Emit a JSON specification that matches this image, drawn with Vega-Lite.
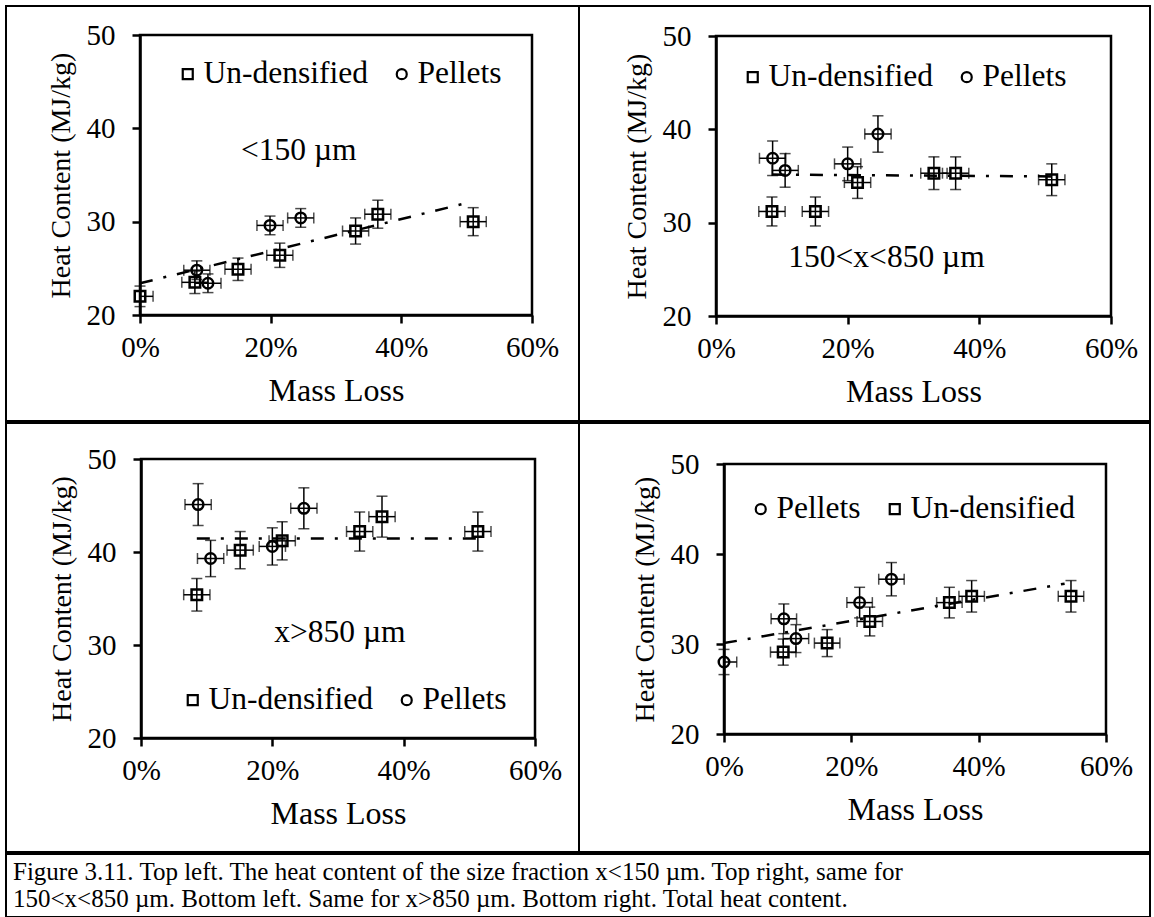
{
  "$schema": "https://vega.github.io/schema/vega-lite/v6.json",
  "background": "white",
  "padding": {"left": 5, "top": 5, "right": 5, "bottom": 5},
  "spacing": 0,
  "resolve": {"scale": {"shape": "independent"}, "legend": {"shape": "independent"}},
  "config": {
    "font": "Liberation Serif",
    "view": {"stroke": "black", "strokeWidth": 2},
    "concat": {"spacing": 0},
    "axis": {"domainColor": "black", "domainWidth": 2.5, "tickColor": "black", "tickWidth": 2.5, "tickSize": 8, "labelFont": "Liberation Serif", "labelFontSize": 29, "labelColor": "black", "titleFont": "Liberation Serif", "titleFontWeight": "normal", "titleColor": "black", "grid": false, "labelFlush": false, "labelOverlap": false},
    "axisX": {"labelPadding": 10, "titlePadding": 13, "titleFontSize": 32},
    "axisY": {"labelPadding": 17, "titlePadding": 11, "titleFontSize": 28},
    "legend": {"labelFont": "Liberation Serif", "labelFontSize": 31.5, "labelColor": "black", "labelLimit": 400, "symbolSize": 100, "symbolStrokeWidth": 2.2, "symbolStrokeColor": "black", "columnPadding": 18, "labelOffset": 0, "padding": 0},
    "tick": {"color": "black"},
    "rule": {"color": "black"}
  },
  "datasets": {
    "ptsTL": [
      {"series": "Un-densified", "x": 0.000, "y": 22.0, "ylo": 20.9, "yhi": 23.1, "xlo": 0.000, "xhi": 0.020},
      {"series": "Un-densified", "x": 0.084, "y": 23.5, "ylo": 22.3, "yhi": 24.7, "xlo": 0.064, "xhi": 0.104},
      {"series": "Un-densified", "x": 0.150, "y": 24.9, "ylo": 23.7, "yhi": 26.1, "xlo": 0.130, "xhi": 0.170},
      {"series": "Un-densified", "x": 0.214, "y": 26.4, "ylo": 25.1, "yhi": 27.7, "xlo": 0.194, "xhi": 0.234},
      {"series": "Un-densified", "x": 0.330, "y": 29.0, "ylo": 27.6, "yhi": 30.4, "xlo": 0.310, "xhi": 0.350},
      {"series": "Un-densified", "x": 0.364, "y": 30.8, "ylo": 29.3, "yhi": 32.3, "xlo": 0.344, "xhi": 0.384},
      {"series": "Un-densified", "x": 0.510, "y": 30.0, "ylo": 28.5, "yhi": 31.5, "xlo": 0.490, "xhi": 0.530},
      {"series": "Pellets", "x": 0.087, "y": 24.8, "ylo": 23.8, "yhi": 25.8, "xlo": 0.067, "xhi": 0.107},
      {"series": "Pellets", "x": 0.104, "y": 23.4, "ylo": 22.4, "yhi": 24.4, "xlo": 0.084, "xhi": 0.124},
      {"series": "Pellets", "x": 0.199, "y": 29.6, "ylo": 28.6, "yhi": 30.6, "xlo": 0.179, "xhi": 0.219},
      {"series": "Pellets", "x": 0.246, "y": 30.4, "ylo": 29.4, "yhi": 31.4, "xlo": 0.226, "xhi": 0.266}
    ],
    "ptsTR": [
      {"series": "Pellets", "x": 0.086, "y": 36.9, "ylo": 35.05, "yhi": 38.75, "xlo": 0.066, "xhi": 0.106},
      {"series": "Pellets", "x": 0.105, "y": 35.6, "ylo": 33.8, "yhi": 37.4, "xlo": 0.085, "xhi": 0.125},
      {"series": "Pellets", "x": 0.200, "y": 36.3, "ylo": 34.5, "yhi": 38.1, "xlo": 0.180, "xhi": 0.220},
      {"series": "Pellets", "x": 0.246, "y": 39.5, "ylo": 37.55, "yhi": 41.45, "xlo": 0.226, "xhi": 0.266},
      {"series": "Un-densified", "x": 0.085, "y": 31.2, "ylo": 29.65, "yhi": 32.75, "xlo": 0.065, "xhi": 0.105},
      {"series": "Un-densified", "x": 0.151, "y": 31.2, "ylo": 29.65, "yhi": 32.75, "xlo": 0.131, "xhi": 0.171},
      {"series": "Un-densified", "x": 0.215, "y": 34.3, "ylo": 32.6, "yhi": 36.0, "xlo": 0.195, "xhi": 0.235},
      {"series": "Un-densified", "x": 0.331, "y": 35.3, "ylo": 33.55, "yhi": 37.05, "xlo": 0.311, "xhi": 0.351},
      {"series": "Un-densified", "x": 0.364, "y": 35.3, "ylo": 33.55, "yhi": 37.05, "xlo": 0.344, "xhi": 0.384},
      {"series": "Un-densified", "x": 0.510, "y": 34.6, "ylo": 32.9, "yhi": 36.3, "xlo": 0.490, "xhi": 0.530}
    ],
    "ptsBL": [
      {"series": "Pellets", "x": 0.087, "y": 45.1, "ylo": 42.85, "yhi": 47.35, "xlo": 0.067, "xhi": 0.107},
      {"series": "Pellets", "x": 0.106, "y": 39.3, "ylo": 37.35, "yhi": 41.25, "xlo": 0.086, "xhi": 0.126},
      {"series": "Pellets", "x": 0.200, "y": 40.6, "ylo": 38.6, "yhi": 42.6, "xlo": 0.180, "xhi": 0.220},
      {"series": "Pellets", "x": 0.248, "y": 44.7, "ylo": 42.5, "yhi": 46.9, "xlo": 0.228, "xhi": 0.268},
      {"series": "Un-densified", "x": 0.085, "y": 35.4, "ylo": 33.65, "yhi": 37.15, "xlo": 0.065, "xhi": 0.105},
      {"series": "Un-densified", "x": 0.151, "y": 40.2, "ylo": 38.2, "yhi": 42.2, "xlo": 0.131, "xhi": 0.171},
      {"series": "Un-densified", "x": 0.215, "y": 41.2, "ylo": 39.15, "yhi": 43.25, "xlo": 0.195, "xhi": 0.235},
      {"series": "Un-densified", "x": 0.333, "y": 42.2, "ylo": 40.1, "yhi": 44.3, "xlo": 0.313, "xhi": 0.353},
      {"series": "Un-densified", "x": 0.367, "y": 43.8, "ylo": 41.6, "yhi": 46.0, "xlo": 0.347, "xhi": 0.387},
      {"series": "Un-densified", "x": 0.513, "y": 42.2, "ylo": 40.1, "yhi": 44.3, "xlo": 0.493, "xhi": 0.533}
    ],
    "ptsBR": [
      {"series": "Pellets", "x": 0.000, "y": 28.0, "ylo": 26.6, "yhi": 29.4, "xlo": 0.000, "xhi": 0.020},
      {"series": "Pellets", "x": 0.094, "y": 32.8, "ylo": 31.15, "yhi": 34.45, "xlo": 0.074, "xhi": 0.114},
      {"series": "Pellets", "x": 0.113, "y": 30.6, "ylo": 29.05, "yhi": 32.15, "xlo": 0.093, "xhi": 0.133},
      {"series": "Pellets", "x": 0.213, "y": 34.6, "ylo": 32.9, "yhi": 36.3, "xlo": 0.193, "xhi": 0.233},
      {"series": "Pellets", "x": 0.263, "y": 37.2, "ylo": 35.35, "yhi": 39.05, "xlo": 0.243, "xhi": 0.283},
      {"series": "Un-densified", "x": 0.093, "y": 29.1, "ylo": 27.65, "yhi": 30.55, "xlo": 0.073, "xhi": 0.113},
      {"series": "Un-densified", "x": 0.162, "y": 30.1, "ylo": 28.6, "yhi": 31.6, "xlo": 0.142, "xhi": 0.182},
      {"series": "Un-densified", "x": 0.229, "y": 32.5, "ylo": 30.9, "yhi": 34.1, "xlo": 0.209, "xhi": 0.249},
      {"series": "Un-densified", "x": 0.354, "y": 34.6, "ylo": 32.9, "yhi": 36.3, "xlo": 0.334, "xhi": 0.374},
      {"series": "Un-densified", "x": 0.389, "y": 35.3, "ylo": 33.55, "yhi": 37.05, "xlo": 0.369, "xhi": 0.409},
      {"series": "Un-densified", "x": 0.545, "y": 35.3, "ylo": 33.55, "yhi": 37.05, "xlo": 0.525, "xhi": 0.565}
    ],
    "trendTL": [{"x": 0.0, "y": 23.4}, {"x": 0.50, "y": 32.0}],
    "trendTR": [{"x": 0.085, "y": 35.15}, {"x": 0.51, "y": 34.95}],
    "trendBL": [{"x": 0.085, "y": 41.45}, {"x": 0.513, "y": 41.45}],
    "trendBR": [{"x": 0.0, "y": 30.1}, {"x": 0.535, "y": 36.7}],
    "notes": [
      {"panel": "TL", "label": "<150 µm", "x": 0.243, "y": 37.6},
      {"panel": "TR", "label": "150<x<850 µm", "x": 0.259, "y": 26.25},
      {"panel": "BL", "label": "x>850 µm", "x": 0.303, "y": 31.3}
    ],
    "caption": [
      {"line": 1, "text": "Figure 3.11. Top left. The heat content of the size fraction x<150 µm. Top right, same for"},
      {"line": 2, "text": "150<x<850 µm. Bottom left. Same for x>850 µm. Bottom right. Total heat content."}
    ]
  },
  "vconcat": [
    {
      "bounds": "flush",
      "spacing": 0,
      "resolve": {"scale": {"shape": "independent"}, "legend": {"shape": "independent"}},
      "hconcat": [
        {
          "width": 573, "height": 415,
          "data": {"name": "ptsTL"},
          "layer": [
            {"data": {"values": [{}]}, "mark": {"type": "rect", "fill": "transparent", "stroke": "black", "strokeWidth": 2.5},
             "encoding": {
               "x": {"datum": 0, "type": "quantitative", "title": "Mass Loss", "scale": {"domain": [0, 0.6], "range": [134, 526], "nice": false, "zero": false}, "axis": {"values": [0, 0.2, 0.4, 0.6], "format": ".0%", "offset": -106, "title": "Mass Loss"}},
               "x2": {"datum": 0.6},
               "y": {"datum": 20, "type": "quantitative", "title": "Heat Content (MJ/kg)", "scale": {"domain": [20, 50], "range": [309, 29], "nice": false, "zero": false}, "axis": {"values": [20, 30, 40, 50], "offset": -134, "title": "Heat Content (MJ/kg)"}},
               "y2": {"datum": 50}}},
            {"data": {"name": "trendTL"}, "mark": {"type": "line", "color": "black", "strokeWidth": 2.5, "strokeDash": [13, 11, 3, 11]},
             "encoding": {"x": {"field": "x", "type": "quantitative", "title": "Mass Loss"}, "y": {"field": "y", "type": "quantitative", "title": "Heat Content (MJ/kg)"}}},
            {"mark": {"type": "rule", "strokeWidth": 1.5},
             "encoding": {"x": {"field": "x", "type": "quantitative", "title": "Mass Loss"}, "y": {"field": "ylo", "type": "quantitative", "title": "Heat Content (MJ/kg)"}, "y2": {"field": "yhi", "title": "Heat Content (MJ/kg)"}}},
            {"mark": {"type": "tick", "orient": "horizontal", "size": 11, "thickness": 1.5},
             "encoding": {"x": {"field": "x", "type": "quantitative", "title": "Mass Loss"}, "y": {"field": "ylo", "type": "quantitative", "title": "Heat Content (MJ/kg)"}}},
            {"mark": {"type": "tick", "orient": "horizontal", "size": 11, "thickness": 1.5},
             "encoding": {"x": {"field": "x", "type": "quantitative", "title": "Mass Loss"}, "y": {"field": "yhi", "type": "quantitative", "title": "Heat Content (MJ/kg)"}}},
            {"mark": {"type": "rule", "strokeWidth": 1.5},
             "encoding": {"x": {"field": "xlo", "type": "quantitative", "title": "Mass Loss"}, "x2": {"field": "xhi", "title": "Mass Loss"}, "y": {"field": "y", "type": "quantitative", "title": "Heat Content (MJ/kg)"}}},
            {"mark": {"type": "tick", "orient": "vertical", "size": 11, "thickness": 1.5},
             "encoding": {"x": {"field": "xlo", "type": "quantitative", "title": "Mass Loss"}, "y": {"field": "y", "type": "quantitative", "title": "Heat Content (MJ/kg)"}}},
            {"mark": {"type": "tick", "orient": "vertical", "size": 11, "thickness": 1.5},
             "encoding": {"x": {"field": "xhi", "type": "quantitative", "title": "Mass Loss"}, "y": {"field": "y", "type": "quantitative", "title": "Heat Content (MJ/kg)"}}},
            {"mark": {"type": "point", "filled": false, "strokeWidth": 2.5, "size": 110, "color": "black", "opacity": 1},
             "encoding": {"x": {"field": "x", "type": "quantitative", "title": "Mass Loss"}, "y": {"field": "y", "type": "quantitative", "title": "Heat Content (MJ/kg)"},
               "shape": {"field": "series", "type": "nominal", "scale": {"domain": ["Un-densified", "Pellets"], "range": ["square", "circle"]},
                 "legend": {"title": null, "orient": "none", "legendX": 166, "legendY": 52, "direction": "horizontal"}}}},
            {"data": {"name": "notes"}, "transform": [{"filter": "datum.panel === 'TL'"}], "mark": {"type": "text", "fontSize": 31.5, "font": "Liberation Serif", "color": "black", "align": "center", "baseline": "middle"},
             "encoding": {"x": {"field": "x", "type": "quantitative", "title": "Mass Loss"}, "y": {"field": "y", "type": "quantitative", "title": "Heat Content (MJ/kg)"}, "text": {"field": "label"}}}
          ]
        },
        {
          "width": 571, "height": 415,
          "data": {"name": "ptsTR"},
          "layer": [
            {"data": {"values": [{}]}, "mark": {"type": "rect", "fill": "transparent", "stroke": "black", "strokeWidth": 2.5},
             "encoding": {
               "x": {"datum": 0, "type": "quantitative", "title": "Mass Loss", "scale": {"domain": [0, 0.6], "range": [137, 532], "nice": false, "zero": false}, "axis": {"values": [0, 0.2, 0.4, 0.6], "format": ".0%", "offset": -105, "title": "Mass Loss"}},
               "x2": {"datum": 0.6},
               "y": {"datum": 20, "type": "quantitative", "title": "Heat Content (MJ/kg)", "scale": {"domain": [20, 50], "range": [310, 30], "nice": false, "zero": false}, "axis": {"values": [20, 30, 40, 50], "offset": -137, "title": "Heat Content (MJ/kg)"}},
               "y2": {"datum": 50}}},
            {"data": {"name": "trendTR"}, "mark": {"type": "line", "color": "black", "strokeWidth": 2.5, "strokeDash": [13, 11, 3, 11]},
             "encoding": {"x": {"field": "x", "type": "quantitative", "title": "Mass Loss"}, "y": {"field": "y", "type": "quantitative", "title": "Heat Content (MJ/kg)"}}},
            {"mark": {"type": "rule", "strokeWidth": 1.5},
             "encoding": {"x": {"field": "x", "type": "quantitative", "title": "Mass Loss"}, "y": {"field": "ylo", "type": "quantitative", "title": "Heat Content (MJ/kg)"}, "y2": {"field": "yhi", "title": "Heat Content (MJ/kg)"}}},
            {"mark": {"type": "tick", "orient": "horizontal", "size": 11, "thickness": 1.5},
             "encoding": {"x": {"field": "x", "type": "quantitative", "title": "Mass Loss"}, "y": {"field": "ylo", "type": "quantitative", "title": "Heat Content (MJ/kg)"}}},
            {"mark": {"type": "tick", "orient": "horizontal", "size": 11, "thickness": 1.5},
             "encoding": {"x": {"field": "x", "type": "quantitative", "title": "Mass Loss"}, "y": {"field": "yhi", "type": "quantitative", "title": "Heat Content (MJ/kg)"}}},
            {"mark": {"type": "rule", "strokeWidth": 1.5},
             "encoding": {"x": {"field": "xlo", "type": "quantitative", "title": "Mass Loss"}, "x2": {"field": "xhi", "title": "Mass Loss"}, "y": {"field": "y", "type": "quantitative", "title": "Heat Content (MJ/kg)"}}},
            {"mark": {"type": "tick", "orient": "vertical", "size": 11, "thickness": 1.5},
             "encoding": {"x": {"field": "xlo", "type": "quantitative", "title": "Mass Loss"}, "y": {"field": "y", "type": "quantitative", "title": "Heat Content (MJ/kg)"}}},
            {"mark": {"type": "tick", "orient": "vertical", "size": 11, "thickness": 1.5},
             "encoding": {"x": {"field": "xhi", "type": "quantitative", "title": "Mass Loss"}, "y": {"field": "y", "type": "quantitative", "title": "Heat Content (MJ/kg)"}}},
            {"mark": {"type": "point", "filled": false, "strokeWidth": 2.5, "size": 110, "color": "black", "opacity": 1},
             "encoding": {"x": {"field": "x", "type": "quantitative", "title": "Mass Loss"}, "y": {"field": "y", "type": "quantitative", "title": "Heat Content (MJ/kg)"},
               "shape": {"field": "series", "type": "nominal", "scale": {"domain": ["Un-densified", "Pellets"], "range": ["square", "circle"]},
                 "legend": {"title": null, "orient": "none", "legendX": 158, "legendY": 55, "direction": "horizontal"}}}},
            {"data": {"name": "notes"}, "transform": [{"filter": "datum.panel === 'TR'"}], "mark": {"type": "text", "fontSize": 31.5, "font": "Liberation Serif", "color": "black", "align": "center", "baseline": "middle"},
             "encoding": {"x": {"field": "x", "type": "quantitative", "title": "Mass Loss"}, "y": {"field": "y", "type": "quantitative", "title": "Heat Content (MJ/kg)"}, "text": {"field": "label"}}}
          ]
        }
      ]
    },
    {
      "bounds": "flush",
      "spacing": 0,
      "resolve": {"scale": {"shape": "independent"}, "legend": {"shape": "independent"}},
      "hconcat": [
        {
          "width": 573, "height": 429,
          "data": {"name": "ptsBL"},
          "layer": [
            {"data": {"values": [{}]}, "mark": {"type": "rect", "fill": "transparent", "stroke": "black", "strokeWidth": 2.5},
             "encoding": {
               "x": {"datum": 0, "type": "quantitative", "title": "Mass Loss", "scale": {"domain": [0, 0.6], "range": [135, 529], "nice": false, "zero": false}, "axis": {"values": [0, 0.2, 0.4, 0.6], "format": ".0%", "offset": -114, "title": "Mass Loss"}},
               "x2": {"datum": 0.6},
               "y": {"datum": 20, "type": "quantitative", "title": "Heat Content (MJ/kg)", "scale": {"domain": [20, 50], "range": [315, 36], "nice": false, "zero": false}, "axis": {"values": [20, 30, 40, 50], "offset": -135, "title": "Heat Content (MJ/kg)"}},
               "y2": {"datum": 50}}},
            {"data": {"name": "trendBL"}, "mark": {"type": "line", "color": "black", "strokeWidth": 2.5, "strokeDash": [13, 11, 3, 11]},
             "encoding": {"x": {"field": "x", "type": "quantitative", "title": "Mass Loss"}, "y": {"field": "y", "type": "quantitative", "title": "Heat Content (MJ/kg)"}}},
            {"mark": {"type": "rule", "strokeWidth": 1.5},
             "encoding": {"x": {"field": "x", "type": "quantitative", "title": "Mass Loss"}, "y": {"field": "ylo", "type": "quantitative", "title": "Heat Content (MJ/kg)"}, "y2": {"field": "yhi", "title": "Heat Content (MJ/kg)"}}},
            {"mark": {"type": "tick", "orient": "horizontal", "size": 11, "thickness": 1.5},
             "encoding": {"x": {"field": "x", "type": "quantitative", "title": "Mass Loss"}, "y": {"field": "ylo", "type": "quantitative", "title": "Heat Content (MJ/kg)"}}},
            {"mark": {"type": "tick", "orient": "horizontal", "size": 11, "thickness": 1.5},
             "encoding": {"x": {"field": "x", "type": "quantitative", "title": "Mass Loss"}, "y": {"field": "yhi", "type": "quantitative", "title": "Heat Content (MJ/kg)"}}},
            {"mark": {"type": "rule", "strokeWidth": 1.5},
             "encoding": {"x": {"field": "xlo", "type": "quantitative", "title": "Mass Loss"}, "x2": {"field": "xhi", "title": "Mass Loss"}, "y": {"field": "y", "type": "quantitative", "title": "Heat Content (MJ/kg)"}}},
            {"mark": {"type": "tick", "orient": "vertical", "size": 11, "thickness": 1.5},
             "encoding": {"x": {"field": "xlo", "type": "quantitative", "title": "Mass Loss"}, "y": {"field": "y", "type": "quantitative", "title": "Heat Content (MJ/kg)"}}},
            {"mark": {"type": "tick", "orient": "vertical", "size": 11, "thickness": 1.5},
             "encoding": {"x": {"field": "xhi", "type": "quantitative", "title": "Mass Loss"}, "y": {"field": "y", "type": "quantitative", "title": "Heat Content (MJ/kg)"}}},
            {"mark": {"type": "point", "filled": false, "strokeWidth": 2.5, "size": 110, "color": "black", "opacity": 1},
             "encoding": {"x": {"field": "x", "type": "quantitative", "title": "Mass Loss"}, "y": {"field": "y", "type": "quantitative", "title": "Heat Content (MJ/kg)"},
               "shape": {"field": "series", "type": "nominal", "scale": {"domain": ["Un-densified", "Pellets"], "range": ["square", "circle"]},
                 "legend": {"title": null, "orient": "none", "legendX": 171, "legendY": 261, "direction": "horizontal"}}}},
            {"data": {"name": "notes"}, "transform": [{"filter": "datum.panel === 'BL'"}], "mark": {"type": "text", "fontSize": 31.5, "font": "Liberation Serif", "color": "black", "align": "center", "baseline": "middle"},
             "encoding": {"x": {"field": "x", "type": "quantitative", "title": "Mass Loss"}, "y": {"field": "y", "type": "quantitative", "title": "Heat Content (MJ/kg)"}, "text": {"field": "label"}}}
          ]
        },
        {
          "width": 571, "height": 429,
          "data": {"name": "ptsBR"},
          "layer": [
            {"data": {"values": [{}]}, "mark": {"type": "rect", "fill": "transparent", "stroke": "black", "strokeWidth": 2.5},
             "encoding": {
               "x": {"datum": 0, "type": "quantitative", "title": "Mass Loss", "scale": {"domain": [0, 0.6], "range": [145, 527], "nice": false, "zero": false}, "axis": {"values": [0, 0.2, 0.4, 0.6], "format": ".0%", "offset": -118, "title": "Mass Loss"}},
               "x2": {"datum": 0.6},
               "y": {"datum": 20, "type": "quantitative", "title": "Heat Content (MJ/kg)", "scale": {"domain": [20, 50], "range": [311, 41], "nice": false, "zero": false}, "axis": {"values": [20, 30, 40, 50], "offset": -145, "title": "Heat Content (MJ/kg)"}},
               "y2": {"datum": 50}}},
            {"data": {"name": "trendBR"}, "mark": {"type": "line", "color": "black", "strokeWidth": 2.5, "strokeDash": [13, 11, 3, 11]},
             "encoding": {"x": {"field": "x", "type": "quantitative", "title": "Mass Loss"}, "y": {"field": "y", "type": "quantitative", "title": "Heat Content (MJ/kg)"}}},
            {"mark": {"type": "rule", "strokeWidth": 1.5},
             "encoding": {"x": {"field": "x", "type": "quantitative", "title": "Mass Loss"}, "y": {"field": "ylo", "type": "quantitative", "title": "Heat Content (MJ/kg)"}, "y2": {"field": "yhi", "title": "Heat Content (MJ/kg)"}}},
            {"mark": {"type": "tick", "orient": "horizontal", "size": 11, "thickness": 1.5},
             "encoding": {"x": {"field": "x", "type": "quantitative", "title": "Mass Loss"}, "y": {"field": "ylo", "type": "quantitative", "title": "Heat Content (MJ/kg)"}}},
            {"mark": {"type": "tick", "orient": "horizontal", "size": 11, "thickness": 1.5},
             "encoding": {"x": {"field": "x", "type": "quantitative", "title": "Mass Loss"}, "y": {"field": "yhi", "type": "quantitative", "title": "Heat Content (MJ/kg)"}}},
            {"mark": {"type": "rule", "strokeWidth": 1.5},
             "encoding": {"x": {"field": "xlo", "type": "quantitative", "title": "Mass Loss"}, "x2": {"field": "xhi", "title": "Mass Loss"}, "y": {"field": "y", "type": "quantitative", "title": "Heat Content (MJ/kg)"}}},
            {"mark": {"type": "tick", "orient": "vertical", "size": 11, "thickness": 1.5},
             "encoding": {"x": {"field": "xlo", "type": "quantitative", "title": "Mass Loss"}, "y": {"field": "y", "type": "quantitative", "title": "Heat Content (MJ/kg)"}}},
            {"mark": {"type": "tick", "orient": "vertical", "size": 11, "thickness": 1.5},
             "encoding": {"x": {"field": "xhi", "type": "quantitative", "title": "Mass Loss"}, "y": {"field": "y", "type": "quantitative", "title": "Heat Content (MJ/kg)"}}},
            {"mark": {"type": "point", "filled": false, "strokeWidth": 2.5, "size": 110, "color": "black", "opacity": 1},
             "encoding": {"x": {"field": "x", "type": "quantitative", "title": "Mass Loss"}, "y": {"field": "y", "type": "quantitative", "title": "Heat Content (MJ/kg)"},
               "shape": {"field": "series", "type": "nominal", "scale": {"domain": ["Pellets", "Un-densified"], "range": ["circle", "square"]},
                 "legend": {"title": null, "orient": "none", "legendX": 166, "legendY": 70, "direction": "horizontal"}}}}
          ]
        }
      ]
    },
    {
      "width": 1144, "height": 63,
      "data": {"name": "caption"},
      "mark": {"type": "text", "align": "left", "baseline": "middle", "fontSize": 25, "font": "Liberation Serif", "color": "black"},
      "encoding": {
        "x": {"datum": 0, "type": "quantitative", "scale": {"domain": [0, 1], "range": [7, 1144]}, "axis": null},
        "y": {"field": "line", "type": "quantitative", "scale": {"domain": [1, 2], "range": [18, 45]}, "axis": null},
        "text": {"field": "text"}
      }
    }
  ]
}
